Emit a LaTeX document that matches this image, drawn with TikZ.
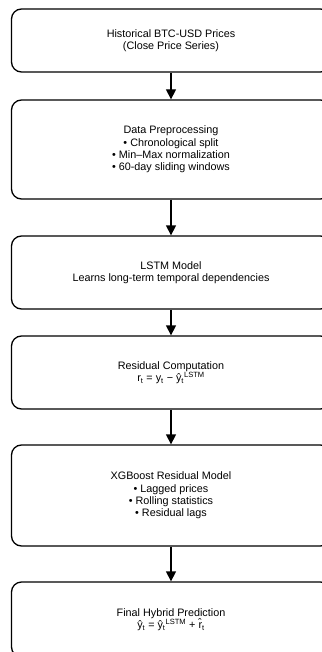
\documentclass[tikz,border=0pt]{standalone}
\usepackage{fontspec}
\setmainfont{Liberation Sans}
\usetikzlibrary{arrows.meta}
\begin{document}
\begin{tikzpicture}[x=1pt,y=1pt,
  stage/.style={draw=black, line width=1.3pt, rounded corners=10pt, fill=white,
    minimum width=319pt, align=center, inner sep=0pt,
    font=\fontsize{10.8}{12.2}\selectfont},
  flow/.style={-{Triangle[width=10pt,length=10pt]}, line width=1.3pt}]
\useasboundingbox (0,0) rectangle (321,-652);

% pipeline stages, top to bottom
\node[stage, minimum height=63pt] (src) at (171,-40.5)
  {Historical BTC-USD Prices\\(Close Price Series)};
\node[stage, minimum height=99pt] (prep) at (171,-149.5)
  {Data Preprocessing\\• Chronological split\\• Min–Max normalization\\• 60-day sliding windows};
\node[stage, minimum height=73pt] (lstm) at (171,-272.5)
  {LSTM Model\\Learns long-term temporal dependencies};
\node[stage, minimum height=73pt] (resid) at (171,-372.5)
  {Residual Computation\\r\textsubscript{t} = y\textsubscript{t} − ŷ\textsubscript{t}\textsuperscript{LSTM}};
\node[stage, minimum height=101pt] (xgb) at (171,-495.5)
  {XGBoost Residual Model\\• Lagged prices\\• Rolling statistics\\• Residual lags};
\node[stage, minimum height=75pt] (final) at (171,-619.5)
  {Final Hybrid Prediction\\ŷ\textsubscript{t} = ŷ\textsubscript{t}\textsuperscript{LSTM} + \^{r}\textsubscript{t}};

% connectors
\draw[flow] (src) -- (prep);
\draw[flow] (prep) -- (lstm);
\draw[flow] (lstm) -- (resid);
\draw[flow] (resid) -- (xgb);
\draw[flow] (xgb) -- (final);
\end{tikzpicture}
\end{document}
